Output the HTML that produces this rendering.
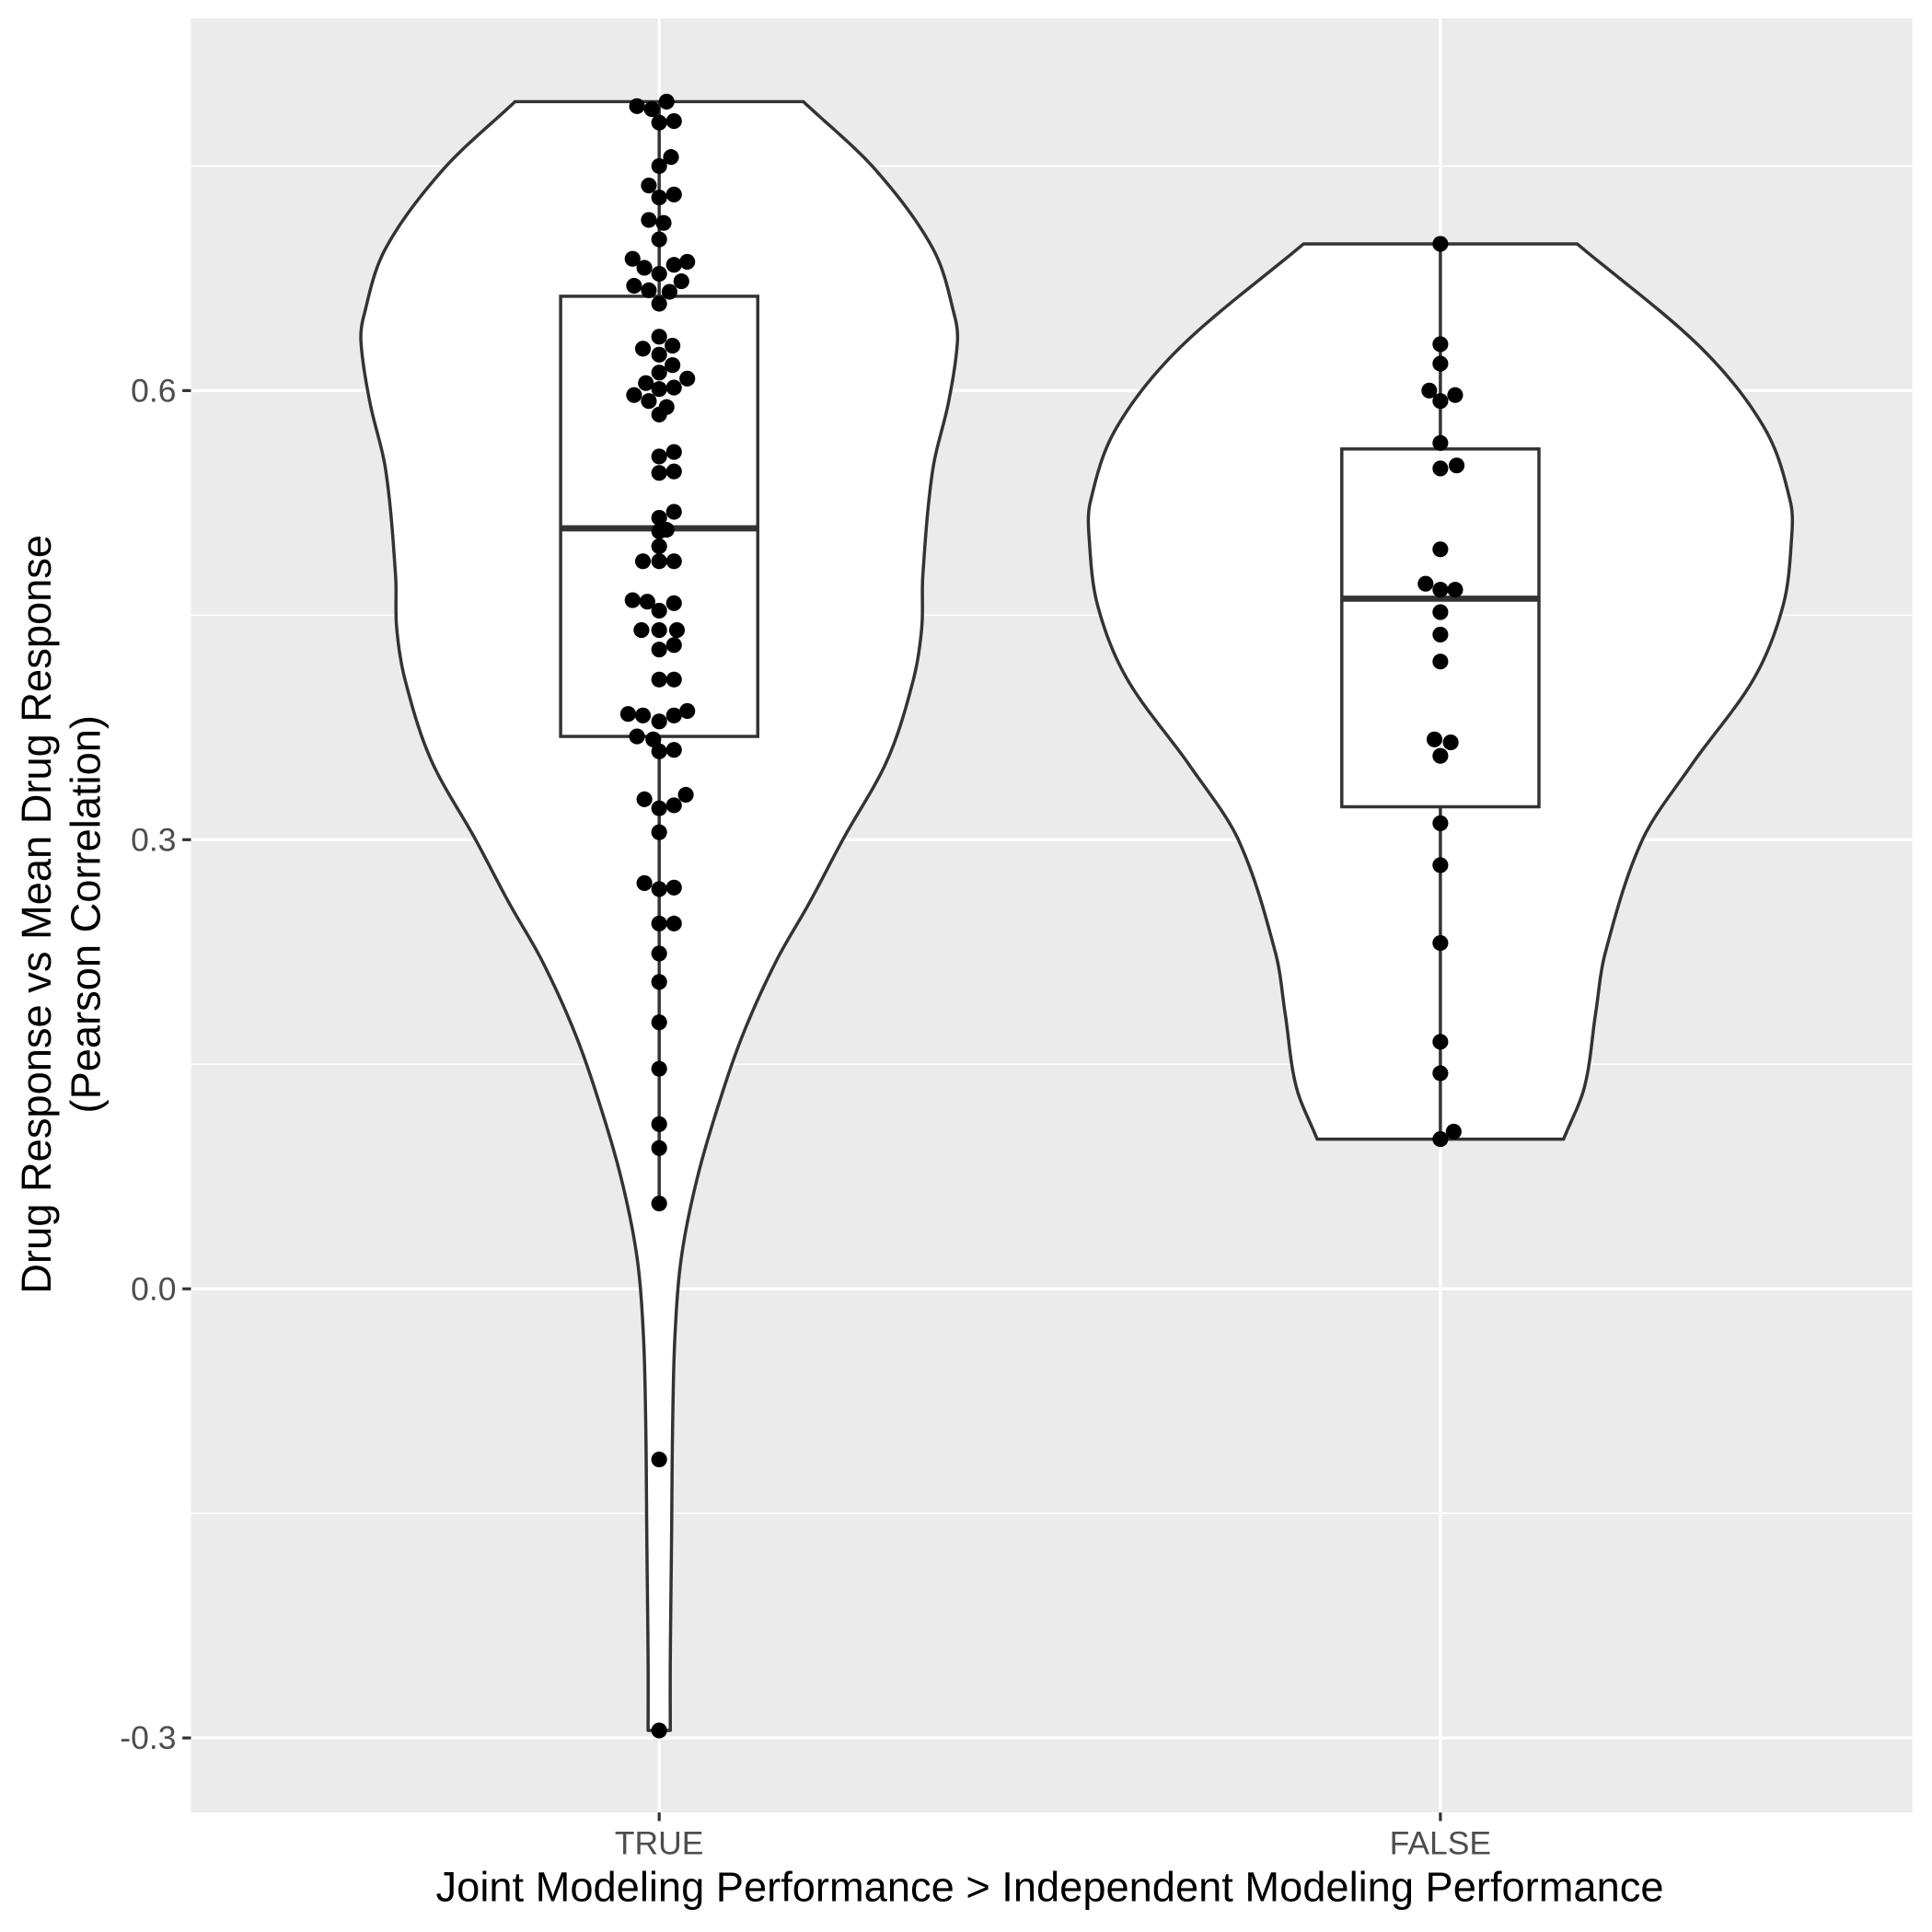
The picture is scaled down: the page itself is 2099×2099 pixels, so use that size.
<!DOCTYPE html>
<html><head><meta charset="utf-8"><style>
html,body{margin:0;padding:0;background:#fff}
svg{display:block}
text{font-family:"Liberation Sans",Arial,sans-serif}
</style></head><body>
<svg id="chart" xmlns="http://www.w3.org/2000/svg" width="2099" height="2099" viewBox="0 0 1568 1568">
<rect x="155" y="15" width="1397" height="1456" fill="#ebebeb"/>
<g id="grid"></g>
<g id="marks"></g>
<g id="axes"></g>
<text x="852" y="1543" font-size="33.8" text-anchor="middle" fill="#000">Joint Modeling Performance &gt; Independent Modeling Performance</text>
<g transform="translate(30,742) rotate(-90)">
<text x="0" y="11" font-size="33.8" text-anchor="middle" fill="#000">Drug Response vs Mean Drug Response</text>
<text x="0" y="51" font-size="33.8" text-anchor="middle" fill="#000">(Pearson Correlation)</text>
</g>
</svg>
<script>
const categories = ["TRUE","FALSE"];
const yTicks = [-0.3, 0.0, 0.3, 0.6];
const yTickLabels = ["-0.3","0.0","0.3","0.6"];
const yMinor = [-0.15, 0.15, 0.45, 0.75];
// violin density profiles (value, relative density)
const trueViolinV = [0.793,0.748,0.695,0.649,0.632,0.593,0.547,0.477,0.441,0.406,0.353,0.300,0.258,0.219,0.170,0.120,0.071,0.021,-0.028,-0.086,-0.170,-0.250,-0.295];
const trueViolinD = [117,175,222,240,242,235,222,214,213,206,185,149,122,95,68,47,30,18,13,11,10,9,9];
const falseViolinV = [0.698,0.629,0.575,0.526,0.501,0.456,0.407,0.349,0.300,0.225,0.184,0.135,0.100];
const falseViolinD = [111,211,263,284,285,278,254,203,164,134,126,117,100];
// box stats: lower whisker, q1, median, q3, upper whisker
const trueBox = [0.057,0.369,0.508,0.663,0.793];
const falseBox = [0.100,0.322,0.461,0.561,0.698];
const trueValues = [0.790,0.788,0.793,0.779,0.780,0.750,0.756,0.737,0.729,0.731,0.714,0.712,0.701,0.688,0.682,0.678,0.684,0.686,0.670,0.667,0.666,0.673,0.658,
0.636,0.628,0.624,0.630,0.617,0.605,0.612,0.608,0.597,0.593,0.601,0.602,0.589,0.584,
0.559,0.556,0.545,0.546,0.519,0.515,0.506,0.507,0.496,0.486,0.486,0.486,
0.460,0.459,0.453,0.458,0.440,0.440,0.440,0.427,0.430,0.407,0.407,
0.384,0.383,0.379,0.383,0.386,0.369,0.367,0.359,0.360,
0.327,0.321,0.323,0.330,0.305,0.271,0.267,0.268,0.244,0.244,0.224,0.205,0.178,0.147,0.110,0.094,0.057,-0.114,-0.295];
const trueSlots = [-1.5,-0.5,0.5,0,1,0,0.8,-0.7,0,1,-0.7,0.3,0,-1.8,-1,0,1,1.9,-1.7,-0.7,0.7,1.5,0,
0,-1.1,0,0.9,0.9,-0.9,0,1.9,-1.7,-0.7,0,1,0.5,0,
1,0,0,1,1,0,0,0.5,0,-1.1,0,1,
-1.8,-0.8,0,1,-1.2,0,1.2,0,1,0,1,
-2.1,-1.1,0,1,1.9,-1.5,-0.4,0,1,
-1,0,1,1.8,0,-1,0,1,0,1,0,0,0,0,0,0,0,0,0];
const falseValues = [0.698,0.631,0.618,0.600,0.593,0.597,0.565,0.548,0.550,0.494,0.471,0.467,0.467,0.452,0.437,0.419,0.367,0.365,0.356,0.311,0.283,0.231,0.165,0.144,0.100,0.105];
const falseSlots = [0,0,0,-0.75,0,1,0,0,1.1,0,-1,0,1,0,0,0,-0.4,0.7,0,0,0,0,0,0,0,0.9];

const NS="http://www.w3.org/2000/svg";
const Y0=1046, YK=1215;
function yScale(v){return Y0-YK*v;}
const xCenters={"TRUE":535,"FALSE":1169};
function xScale(c){return xCenters[c];}
const SLOT=12, BOXHW=80, SW=2.6;
function mk(tag,attrs,parent){const e=document.createElementNS(NS,tag);for(const k in attrs)e.setAttribute(k,attrs[k]);parent.appendChild(e);return e;}
const grid=document.getElementById('grid'), marks=document.getElementById('marks'), axes=document.getElementById('axes');

yMinor.forEach(v=>{const l=mk('line',{x1:155,x2:1552,y1:yScale(v),y2:yScale(v),stroke:'#fff','stroke-width':1.2},grid);

});
yTicks.forEach((v,i)=>{const l=mk('line',{x1:155,x2:1552,y1:yScale(v),y2:yScale(v),stroke:'#fff','stroke-width':2.4},grid);


const t=mk('line',{x1:148,x2:155,y1:yScale(v),y2:yScale(v),stroke:'#333','stroke-width':2.4},axes);


const tx=mk('text',{x:143,y:yScale(v)+9,'font-size':26.5,'text-anchor':'end',fill:'#4d4d4d'},axes);
tx.textContent=yTickLabels[i];

});
categories.forEach(c=>{const l=mk('line',{x1:xScale(c),x2:xScale(c),y1:15,y2:1471,stroke:'#fff','stroke-width':2.4},grid);


const t=mk('line',{x1:xScale(c),x2:xScale(c),y1:1471,y2:1478,stroke:'#333','stroke-width':2.4},axes);


const tx=mk('text',{x:xScale(c),y:1505,'font-size':26.5,'text-anchor':'middle',fill:'#4d4d4d'},axes);
tx.textContent=c;

});

// Hermite interpolation of half-width as a function of value
function profile(vs,ds){
  const n=vs.length,m=[];
  for(let i=0;i<n;i++){
    if(i===0) m.push((ds[1]-ds[0])/(vs[1]-vs[0]));
    else if(i===n-1) m.push((ds[n-1]-ds[n-2])/(vs[n-1]-vs[n-2]));
    else m.push((ds[i+1]-ds[i-1])/(vs[i+1]-vs[i-1]));
  }
  m[0]=(ds[1]-ds[0])/(vs[1]-vs[0]);
  const pts=[];
  for(let i=0;i<n-1;i++){
    const h=vs[i+1]-vs[i];
    for(let k=0;k<20;k++){
      const t=k/20,t2=t*t,t3=t2*t;
      const d=(2*t3-3*t2+1)*ds[i]+(t3-2*t2+t)*h*m[i]+(-2*t3+3*t2)*ds[i+1]+(t3-t2)*h*m[i+1];
      pts.push([vs[i]+h*t,d]);
    }
  }
  pts.push([vs[n-1],ds[n-1]]);
  return pts;
}
function violin(cat,vs,ds,name){const cx=xScale(cat);
const pr=profile(vs,ds);
let d='M'+pr.map(p=>`${(cx+p[1]).toFixed(2)},${yScale(p[0]).toFixed(2)}`).join(' L');
d+=' L'+pr.slice().reverse().map(p=>`${(cx-p[1]).toFixed(2)},${yScale(p[0]).toFixed(2)}`).join(' L')+' Z';
const p=mk('path',{d:d,fill:'#fff',stroke:'#333','stroke-width':SW,'stroke-linejoin':'round'},marks);

}
function box(cat,b,name){const cx=xScale(cat);const g=mk('g',{},marks);


mk('line',{x1:cx,x2:cx,y1:yScale(b[0]),y2:yScale(b[1]),stroke:'#333','stroke-width':SW},g);
mk('line',{x1:cx,x2:cx,y1:yScale(b[3]),y2:yScale(b[4]),stroke:'#333','stroke-width':SW},g);
mk('rect',{x:cx-BOXHW,y:yScale(b[3]),width:2*BOXHW,height:yScale(b[1])-yScale(b[3]),fill:'#fff',stroke:'#333','stroke-width':SW},g);
mk('line',{x1:cx-BOXHW,x2:cx+BOXHW,y1:yScale(b[2]),y2:yScale(b[2]),stroke:'#333','stroke-width':5},g);}
function dots(cat,vals,slots,name){const cx=xScale(cat);const g=mk('g',{},marks);


vals.forEach((v,i)=>{const c=mk('circle',{cx:cx+slots[i]*SLOT,cy:yScale(v),r:6.4,fill:'#000'},g);

});}
violin('TRUE',trueViolinV,trueViolinD,'violin-true');
violin('FALSE',falseViolinV,falseViolinD,'violin-false');
box('TRUE',trueBox,'boxplot-true');
box('FALSE',falseBox,'boxplot-false');
dots('TRUE',trueValues,trueSlots,'dots-true');
dots('FALSE',falseValues,falseSlots,'dots-false');
</script>
</body></html>
